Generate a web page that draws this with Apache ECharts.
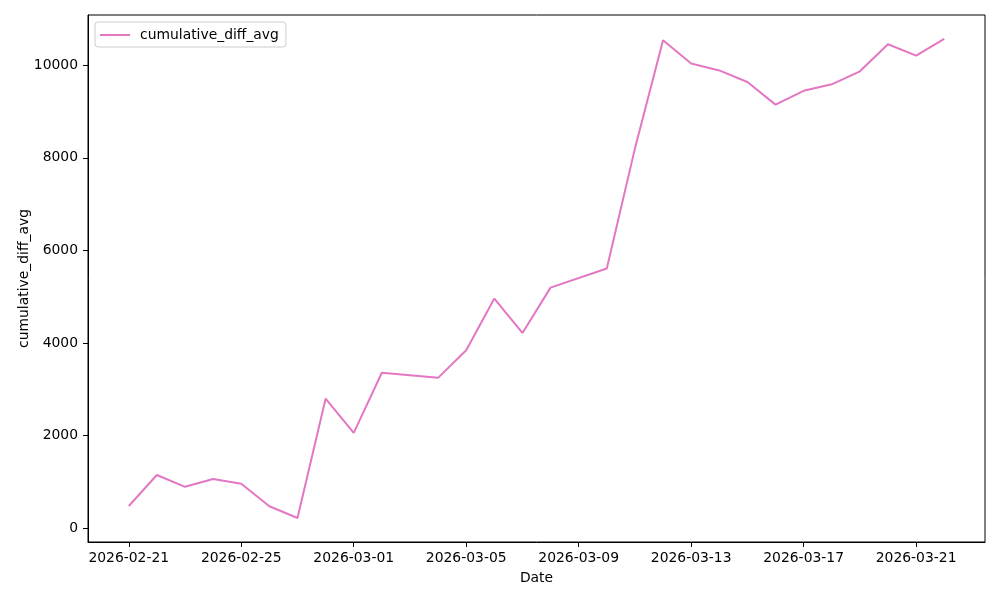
<!DOCTYPE html>
<html>
<head>
<meta charset="utf-8">
<script src="https://cdn.jsdelivr.net/npm/echarts@6/dist/echarts.min.js"></script>
<style>
  html, body { margin: 0; padding: 0; background: #fff; }
  #chart { width: 1000px; height: 600px; }
</style>
</head>
<body>
<div id="chart"></div>
<script>
// Data
const dates = [
  '2026-02-21','2026-02-22','2026-02-23','2026-02-24','2026-02-25','2026-02-26','2026-02-27',
  '2026-02-28','2026-03-01','2026-03-02','2026-03-04','2026-03-05','2026-03-06','2026-03-07',
  '2026-03-08','2026-03-10','2026-03-11','2026-03-12','2026-03-13','2026-03-14','2026-03-15',
  '2026-03-16','2026-03-17','2026-03-18','2026-03-19','2026-03-20','2026-03-21','2026-03-22'
];
const cumulativeDiffAvg = [
  475, 1145, 890, 1060, 955, 470, 215,
  2795, 2055, 3355, 3245, 3840, 4960, 4215,
  5195, 5610, 8200, 10540, 10040, 9890, 9640,
  9150, 9450, 9590, 9870, 10455, 10210, 10570
];
const xTickDates = ['2026-02-21','2026-02-25','2026-03-01','2026-03-05','2026-03-09','2026-03-13','2026-03-17','2026-03-21'];
const yTickValues = [0, 2000, 4000, 6000, 8000, 10000];
const seriesName = 'cumulative_diff_avg';

const toTs = s => { const p = s.split('-').map(Number); return Date.UTC(p[0], p[1] - 1, p[2]); };
const seriesData = dates.map((d, i) => [toTs(d), cumulativeDiffAvg[i]]);
const firstTs = toTs(dates[0]);
const lastTs = toTs(dates[dates.length - 1]);
const span = lastTs - firstTs;
const xMin = firstTs - span * 0.05;
const xMax = lastTs + span * 0.05;
const yLo = Math.min(...cumulativeDiffAvg), yHi = Math.max(...cumulativeDiffAvg);
const ySpan = yHi - yLo;
const yMin = yLo - ySpan * 0.05;
const yMax = yHi + ySpan * 0.05;

const pad = n => (n < 10 ? '0' : '') + n;
const fmtDate = v => { const d = new Date(v); return d.getUTCFullYear() + '-' + pad(d.getUTCMonth() + 1) + '-' + pad(d.getUTCDate()); };

const FONT = 'DejaVu Sans';
const chart = echarts.init(document.getElementById('chart'), null, { renderer: 'canvas' });
chart.setOption({
  animation: false,
  textStyle: { fontFamily: FONT },
  grid: {
    left: 88, right: 15, top: 15, bottom: 58,
    show: true, borderColor: '#000', borderWidth: 1, backgroundColor: 'transparent'
  },
  legend: {
    left: 95, top: 22,
    padding: [6, 7, 5, 5],
    borderColor: '#cccccc', borderWidth: 1, borderRadius: 3,
    backgroundColor: 'rgba(255,255,255,0.8)',
    itemWidth: 30, itemHeight: 2,
    icon: 'rect',
    textStyle: { fontFamily: FONT, fontSize: 13.9, color: '#000', padding: [0, 0, 0, 5] },
    data: [seriesName]
  },
  xAxis: {
    type: 'value',
    min: xMin, max: xMax,
    scale: true,
    name: 'Date', nameLocation: 'middle', nameGap: 29,
    nameMoveOverlap: false,
    nameTextStyle: { fontFamily: FONT, fontSize: 13.9, color: '#000' },
    axisLine: { show: true, onZero: false, lineStyle: { color: '#000', width: 1 } },
    axisTick: { show: true, length: 5, lineStyle: { color: '#000', width: 1 }, customValues: xTickDates.map(toTs) },
    axisLabel: { show: true, margin: 9, fontFamily: FONT, fontSize: 13.9, color: '#000', customValues: xTickDates.map(toTs), formatter: v => fmtDate(v), showMinLabel: true, showMaxLabel: true },
    splitLine: { show: false }
  },
  yAxis: {
    type: 'value',
    min: yMin, max: yMax,
    scale: true,
    name: seriesName, nameLocation: 'middle', nameGap: 57,
    nameMoveOverlap: false,
    nameTextStyle: { fontFamily: FONT, fontSize: 13.9, color: '#000' },
    axisLine: { show: true, onZero: false, lineStyle: { color: '#000', width: 1 } },
    axisTick: { show: true, length: 5, lineStyle: { color: '#000', width: 1 }, customValues: yTickValues },
    axisLabel: { show: true, margin: 10, fontFamily: FONT, fontSize: 13.9, color: '#000', customValues: yTickValues, formatter: v => String(v) },
    splitLine: { show: false }
  },
  series: [{
    name: seriesName,
    type: 'line',
    data: seriesData,
    showSymbol: false,
    symbol: 'none',
    lineStyle: { color: '#e377c2', width: 2 },
    itemStyle: { color: '#e377c2' }
  }]
});
</script>
</body>
</html>
